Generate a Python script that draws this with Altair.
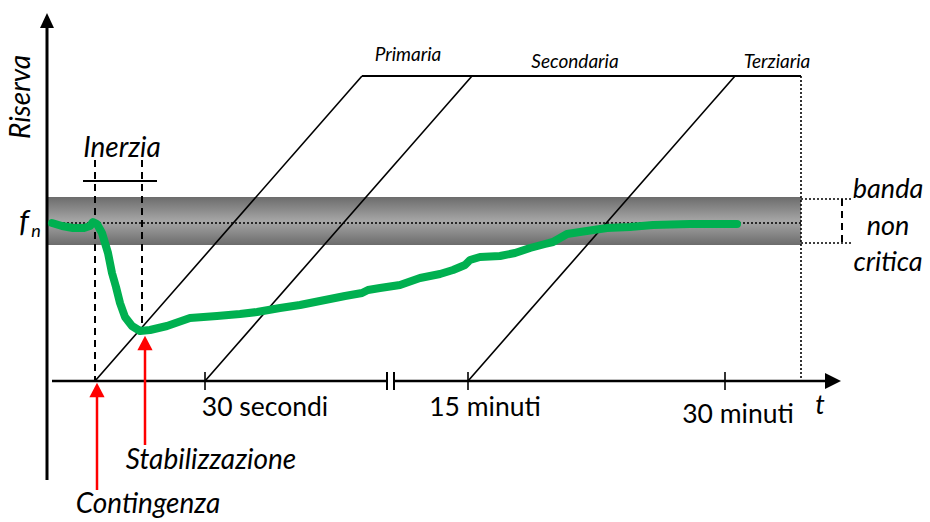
import altair as alt
import pandas as pd

W, H = 930, 522
FONT = "Lato"

# ---- green frequency curve (x = time position, y = reserve position, screen-like units) ----
curve_t = [52, 62, 73, 84, 90, 93, 97, 102, 105, 108, 112, 116, 120, 125, 132, 140, 150, 167,
           190, 217, 240, 257, 280, 300, 320, 345, 362, 368, 380, 400, 420, 440, 453, 465, 470,
           480, 500, 515, 530, 545, 553, 560, 567, 580, 607, 630, 653, 690, 737]
curve_r = [223, 226, 228, 228, 226, 222, 224, 233, 243, 253, 273, 287, 303, 317, 326, 331, 330, 326,
           318, 316, 314, 312, 308, 305, 301, 296, 293, 290, 288, 285, 278, 274, 270, 265, 260,
           257, 256, 253, 248, 244, 242, 238, 234, 232, 228, 227, 225, 224, 224]

# ---- layout values ----
band = dict(x=47, x2=801, y=197, y2=245)
fn_level = 223
ticks_t = [205, 468, 725]
reserve_steps_start = [95, 205, 468]   # Primaria, Secondaria, Terziaria
reserve_steps_end = [362, 472, 735]
reserve_top = 76
reserve_end = 801

seg_solid = pd.DataFrame([
    # y axis
    dict(x=47, y=28, x2=47, y2=480, w=3.0),
    # x axis (with break)
    dict(x=52, y=381, x2=387, y2=381, w=2.5),
    dict(x=394, y=381, x2=828, y2=381, w=2.5),
    # break marks
    dict(x=387, y=372, x2=387, y2=390, w=2.0),
    dict(x=394, y=372, x2=394, y2=390, w=2.0),
    # inerzia bar
    dict(x=83, y=181, x2=157, y2=181, w=2.0),
    # top line of reserves
    dict(x=362, y=reserve_top, x2=reserve_end, y2=reserve_top, w=2.0),
] + [dict(x=t, y=372, x2=t, y2=390, w=1.6) for t in ticks_t]
  + [dict(x=a, y=381, x2=b, y2=reserve_top, w=1.6) for a, b in zip(reserve_steps_start, reserve_steps_end)])

seg_dotted = pd.DataFrame([
    dict(x=47, y=fn_level, x2=801, y2=fn_level),
    dict(x=801, y=reserve_top, x2=801, y2=381),
    dict(x=801, y=199, x2=852, y2=199),
    dict(x=801, y=243, x2=852, y2=243),
])

seg_dashed = pd.DataFrame([
    dict(x=95, y=160, x2=95, y2=381),
    dict(x=142, y=160, x2=142, y2=330),
    dict(x=842, y=199, x2=842, y2=243),
])

seg_red = pd.DataFrame([
    dict(x=97, y=396, x2=97, y2=490),
    dict(x=145, y=350, x2=145, y2=445),
])

arrows_up_black = pd.DataFrame([dict(x=47, y=20.5)])
arrows_right_black = pd.DataFrame([dict(x=833, y=381)])
arrows_up_red = pd.DataFrame([dict(x=97, y=390), dict(x=145, y=343)])

labels_italic = pd.DataFrame([
    dict(text="Riserva", x=22, y=97, size=28, angle=270),
    dict(text="Inerzia", x=122, y=149, size=28, angle=0),
    dict(text="Stabilizzazione", x=211, y=461, size=28, angle=0),
    dict(text="Contingenza", x=148, y=505, size=28, angle=0),
    dict(text="banda", x=888, y=190, size=27, angle=0),
    dict(text="non", x=888, y=227, size=27, angle=0),
    dict(text="critica", x=888, y=263, size=27, angle=0),
    dict(text="t", x=820, y=406, size=27, angle=0),
    dict(text="f", x=24, y=223, size=31, angle=0),
    dict(text="n", x=36, y=232, size=18, angle=0),
])
labels_small = pd.DataFrame([
    dict(text="Primaria", x=408, y=55, size=19),
    dict(text="Secondaria", x=575, y=62, size=19),
    dict(text="Terziaria", x=777, y=62, size=19),
])
labels_ticks = pd.DataFrame([
    dict(text="30 secondi", x=265, y=408, size=26.5),
    dict(text="15 minuti", x=485, y=408, size=26.5),
    dict(text="30 minuti", x=738, y=415, size=26.5),
])

xs = alt.Scale(domain=[0, W], nice=False, zero=False)
ys = alt.Scale(domain=[0, H], nice=False, zero=False, reverse=True)
X = lambda f="x": alt.X(f"{f}:Q", scale=xs, axis=None)
Y = lambda f="y": alt.Y(f"{f}:Q", scale=ys, axis=None)

band_layer = alt.Chart(pd.DataFrame([band])).mark_rect(
    color=alt.Gradient(
        gradient="linear", x1=0, x2=0, y1=0, y2=1,
        stops=[alt.GradientStop(color="#6c6c6c", offset=0),
               alt.GradientStop(color="#a6a6a6", offset=0.5),
               alt.GradientStop(color="#6c6c6c", offset=1)])
).encode(x=X(), x2="x2:Q", y=Y(), y2="y2:Q")

solid = alt.Chart(seg_solid).mark_rule(color="black").encode(
    x=X(), y=Y(), x2="x2:Q", y2="y2:Q", strokeWidth=alt.StrokeWidth("w:Q", scale=None))
dotted = alt.Chart(seg_dotted).mark_rule(color="black", strokeWidth=1.6, strokeDash=[2, 2]).encode(
    x=X(), y=Y(), x2="x2:Q", y2="y2:Q")
dashed = alt.Chart(seg_dashed).mark_rule(color="black", strokeWidth=2, strokeDash=[7, 5]).encode(
    x=X(), y=Y(), x2="x2:Q", y2="y2:Q")
red = alt.Chart(seg_red).mark_rule(color="#ff0000", strokeWidth=2.5).encode(
    x=X(), y=Y(), x2="x2:Q", y2="y2:Q")

curve_df = pd.DataFrame({"x": curve_t, "y": curve_r, "i": range(len(curve_t))})
curve = alt.Chart(curve_df).mark_line(
    color="#00b050", strokeWidth=8, strokeCap="round", strokeJoin="round"
).encode(x=X(), y=Y(), order="i:Q")

up_black = alt.Chart(arrows_up_black).mark_point(
    shape="M0,-1L0.93,1L-0.93,1Z", filled=True, color="black", opacity=1, size=225, strokeWidth=0
).encode(x=X(), y=Y())
right_black = alt.Chart(arrows_right_black).mark_point(
    shape="M1,0L-1,-1L-1,1Z", filled=True, color="black", opacity=1, size=256, strokeWidth=0
).encode(x=X(), y=Y())
up_red = alt.Chart(arrows_up_red).mark_point(
    shape="M0,-1L1.05,1L-1.05,1Z", filled=True, color="#ff0000", opacity=1, size=210, strokeWidth=0
).encode(x=X(), y=Y())

txt_it = alt.Chart(labels_italic).mark_text(
    font=FONT, fontStyle="italic", color="black", baseline="middle", align="center"
).encode(x=X(), y=Y(), text="text:N", size=alt.Size("size:Q", scale=None),
         angle=alt.Angle("angle:Q", scale=None))
txt_small = alt.Chart(labels_small).mark_text(
    font=FONT, fontStyle="italic", color="black", baseline="middle", align="center"
).encode(x=X(), y=Y(), text="text:N", size=alt.Size("size:Q", scale=None))
txt_ticks = alt.Chart(labels_ticks).mark_text(
    font=FONT, color="black", baseline="middle", align="center"
).encode(x=X(), y=Y(), text="text:N", size=alt.Size("size:Q", scale=None))

chart = alt.layer(
    band_layer, dotted, dashed, solid, curve, red, up_black, right_black, up_red,
    txt_it, txt_small, txt_ticks
).properties(
    width=W, height=H, padding=0, autosize=alt.AutoSizeParams(type="none"), background="white"
).configure_view(stroke=None)

chart.save("out.html", embed_options={"renderer": "svg", "actions": False})
